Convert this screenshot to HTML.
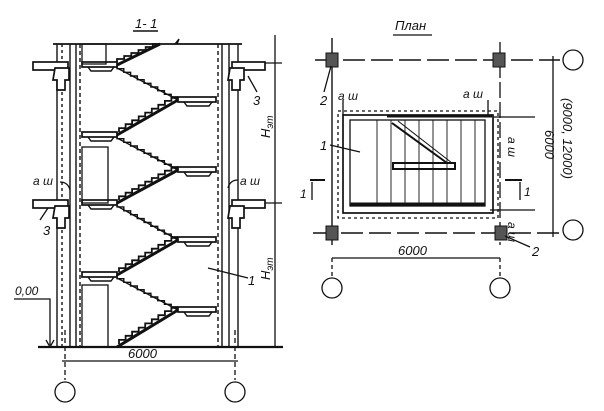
<!DOCTYPE html>
<html><head><meta charset="utf-8"><style>
html,body{margin:0;padding:0;background:#fff;width:604px;height:411px;overflow:hidden}
svg{display:block}
text{font-family:"Liberation Sans",sans-serif;font-style:italic;fill:#111}
</style></head><body>
<svg id="s" width="604" height="411" viewBox="0 0 604 411" xmlns="http://www.w3.org/2000/svg" stroke="#111" fill="none" stroke-width="1.3">
<text x="135" y="28" font-size="13" stroke="none">1- 1</text>
<line x1="133" y1="31" x2="158" y2="31" stroke-width="1.5"/>
<line x1="53" y1="44" x2="242" y2="44" stroke-width="1.8"/>
<g stroke-width="1.4">
<line x1="57" y1="44" x2="57" y2="347"/><line x1="62" y1="44" x2="62" y2="347" stroke-dasharray="3,3"/>
<line x1="70" y1="44" x2="70" y2="347"/><line x1="76" y1="44" x2="76" y2="347"/><line x1="80" y1="44" x2="80" y2="347" stroke-dasharray="4,3"/>
<line x1="218" y1="44" x2="218" y2="347" stroke-dasharray="4,3"/><line x1="222" y1="44" x2="222" y2="347"/>
<line x1="229" y1="44" x2="229" y2="347"/><line x1="238" y1="44" x2="238" y2="347"/>
</g>
<g fill="#fff" stroke-width="1.7">
<rect x="33" y="62" width="35" height="8"/><rect x="232" y="62" width="33" height="8"/>
<rect x="33" y="200" width="35" height="8"/><rect x="232" y="200" width="33" height="8"/>
<path d="M55 68h14v12h-4v10h-8v-10h-4z"/><path d="M230 68h14v12h-4v10h-8v-10h-4z"/>
<path d="M55 206h14v12h-4v10h-8v-10h-4z"/><path d="M230 206h14v12h-4v10h-8v-10h-4z"/>
</g>
<g id="stairs" stroke-width="1.4"></g>
<rect x="82" y="147" width="26" height="56"/><rect x="82" y="285" width="26" height="62"/>
<rect x="82" y="44" width="24" height="20"/>
<line x1="38" y1="347" x2="283" y2="347" stroke-width="2.2"/>
<line x1="275" y1="35" x2="275" y2="347"/>
<line x1="265" y1="63" x2="282" y2="63"/><line x1="265" y1="203" x2="282" y2="203"/>
<text transform="translate(270,138) rotate(-90)" font-size="13" stroke="none">H<tspan font-size="10" dy="3">эт</tspan></text>
<text transform="translate(270,280) rotate(-90)" font-size="13" stroke="none">H<tspan font-size="10" dy="3">эт</tspan></text>
<text x="33" y="185" font-size="12" stroke="none">a ш</text><path d="M60 182 q8 0 10 8"/>
<text x="240" y="185" font-size="12" stroke="none">a ш</text><path d="M238 180 q-8 0 -10 8"/>
<text x="43" y="235" font-size="13" stroke="none">3</text><line x1="40" y1="220" x2="48" y2="208"/>
<text x="253" y="105" font-size="13" stroke="none">3</text><line x1="257" y1="92" x2="248" y2="76"/>
<text x="248" y="285" font-size="13" stroke="none">1</text><line x1="248" y1="278" x2="208" y2="268"/>
<text x="15" y="295" font-size="12" stroke="none">0,00</text>
<polyline points="14,299 50,299 50,345"/><path d="M46 340 l4 7 l4 -7"/>
<line x1="65" y1="330" x2="65" y2="380" stroke-dasharray="5,3"/><line x1="235" y1="330" x2="235" y2="380" stroke-dasharray="5,3"/>
<line x1="62" y1="361" x2="238" y2="361"/>
<text x="128" y="358" font-size="13" stroke="none">6000</text>
<circle cx="65" cy="392" r="10"/><circle cx="235" cy="392" r="10"/>
<text x="395" y="30" font-size="13" stroke="none">План</text>
<line x1="393" y1="35" x2="432" y2="35"/>
<g stroke-dasharray="22,6" stroke-width="1.4">
<line x1="315" y1="60" x2="560" y2="60"/><line x1="313" y1="233" x2="560" y2="233"/>
</g>
<line x1="332" y1="38" x2="332" y2="245" stroke-width="1.4"/>
<line x1="500" y1="42" x2="500" y2="245" stroke-dasharray="16,4"/>
<g fill="#555" stroke-width="1">
<rect x="326" y="53" width="12" height="14"/><rect x="493" y="53" width="12" height="14"/>
<rect x="326" y="226" width="12" height="14"/><rect x="495" y="226" width="12" height="14"/>
</g>
<rect x="343" y="115" width="150" height="98" stroke-width="1.7"/>
<rect x="350" y="120" width="135" height="86"/>
<rect x="338" y="111" width="160" height="107" stroke-dasharray="3,3"/>
<line x1="387" y1="116" x2="492" y2="116" stroke-width="3"/>
<line x1="350" y1="204" x2="485" y2="204" stroke-width="3"/>
<rect x="393" y="163" width="62" height="6" stroke-width="2"/>
<g id="treads"></g>
<line x1="392" y1="123" x2="447" y2="163" stroke-width="2"/>
<line x1="398" y1="121" x2="452" y2="163" stroke-width="1"/>
<text x="320" y="150" font-size="13" stroke="none">1</text><line x1="330" y1="145" x2="360" y2="152"/>
<text x="338" y="100" font-size="12" stroke="none">a ш</text><text x="463" y="98" font-size="12" stroke="none">a ш</text>
<text transform="translate(508,137) rotate(90)" font-size="12" stroke="none">a ш</text>
<text transform="translate(508,222) rotate(90)" font-size="12" stroke="none">a ш</text>
<line x1="343" y1="100" x2="343" y2="115"/><line x1="488" y1="100" x2="488" y2="115"/>
<line x1="493" y1="117" x2="535" y2="117"/><line x1="490" y1="210" x2="535" y2="210"/>
<line x1="310" y1="180" x2="325" y2="180" stroke-width="2"/><line x1="312" y1="182" x2="312" y2="200"/><text x="300" y="198" font-size="12" stroke="none">1</text>
<line x1="505" y1="180" x2="522" y2="180" stroke-width="2"/><line x1="520" y1="182" x2="520" y2="200"/><text x="524" y="196" font-size="12" stroke="none">1</text>
<text x="320" y="105" font-size="13" stroke="none">2</text><line x1="324" y1="92" x2="331" y2="66"/>
<text x="532" y="256" font-size="13" stroke="none">2</text><line x1="530" y1="247" x2="505" y2="236"/>
<line x1="553" y1="56" x2="553" y2="237"/>
<text transform="translate(545,130) rotate(90)" font-size="13" stroke="none">6000</text>
<text transform="translate(563,98) rotate(90)" font-size="13" stroke="none">(9000, 12000)</text>
<circle cx="573" cy="60" r="10"/><circle cx="573" cy="230" r="10"/>
<line x1="332" y1="258" x2="500" y2="258"/>
<text x="398" y="255" font-size="13" stroke="none">6000</text>
<line x1="332" y1="258" x2="332" y2="278" stroke-dasharray="4,3"/><line x1="500" y1="258" x2="500" y2="278" stroke-dasharray="4,3"/>
<circle cx="332" cy="288" r="10"/><circle cx="500" cy="288" r="10"/>
</svg>
<script>
var g=document.getElementById('stairs'),NS='http://www.w3.org/2000/svg';
function el(t,a){var e=document.createElementNS(NS,t);for(var k in a)e.setAttribute(k,a[k]);g.appendChild(e);}
var L=[65,135,203,275],R=[100,170,240,310];
L.forEach(function(y){el('rect',{x:82,y:y-3,width:35,height:5,'stroke-width':1.7});el('path',{d:'M88 '+(y+2)+'l3 4h20l3-4'});});
R.forEach(function(y){el('rect',{x:178,y:y-3,width:38,height:5,'stroke-width':1.7});el('path',{d:'M184 '+(y+2)+'l3 4h22l3-4'});});
function steps(x1,y1,x2,y2,n,w){var d='M'+x1+' '+y1,dx=(x2-x1)/n,dy=(y2-y1)/n,x=x1,y=y1;
for(var i=0;i<n;i++){y+=dy;d+=' V'+y.toFixed(1);x+=dx;d+=' H'+x.toFixed(1);}el('path',{d:d,'stroke-width':w});}
var pairs=[[117,347,178,310],[117,275,178,240],[117,203,178,170],[117,135,178,100]];
pairs.forEach(function(p){el('line',{x1:p[0],y1:p[1],x2:p[2],y2:p[3],'stroke-width':3});steps(p[0]+2,p[1]-3,p[2],p[3]-3,9,1.8);});
var q=[[117,65,178,100],[117,135,178,170],[117,203,178,240],[117,275,178,310]];
q.forEach(function(p){el('line',{x1:p[0],y1:p[1]+3,x2:p[2],y2:p[3],'stroke-width':1.4});steps(p[0],p[1],p[2],p[3]-2,9,1.4);});
el('line',{x1:117,y1:65,x2:160,y2:44,'stroke-width':3});steps(117,62,160,44,6,1.8);
el('path',{d:'M175 44 l4 -5 l-2 5'});
var t=document.getElementById('treads');
for(var i=0;i<8;i++){var x=377+i*14;var l=document.createElementNS(NS,'line');l.setAttribute('x1',x);l.setAttribute('x2',x);l.setAttribute('y1',120);l.setAttribute('y2',204);l.setAttribute('stroke-width',0.9);t.appendChild(l);}
</script>
</body></html>
